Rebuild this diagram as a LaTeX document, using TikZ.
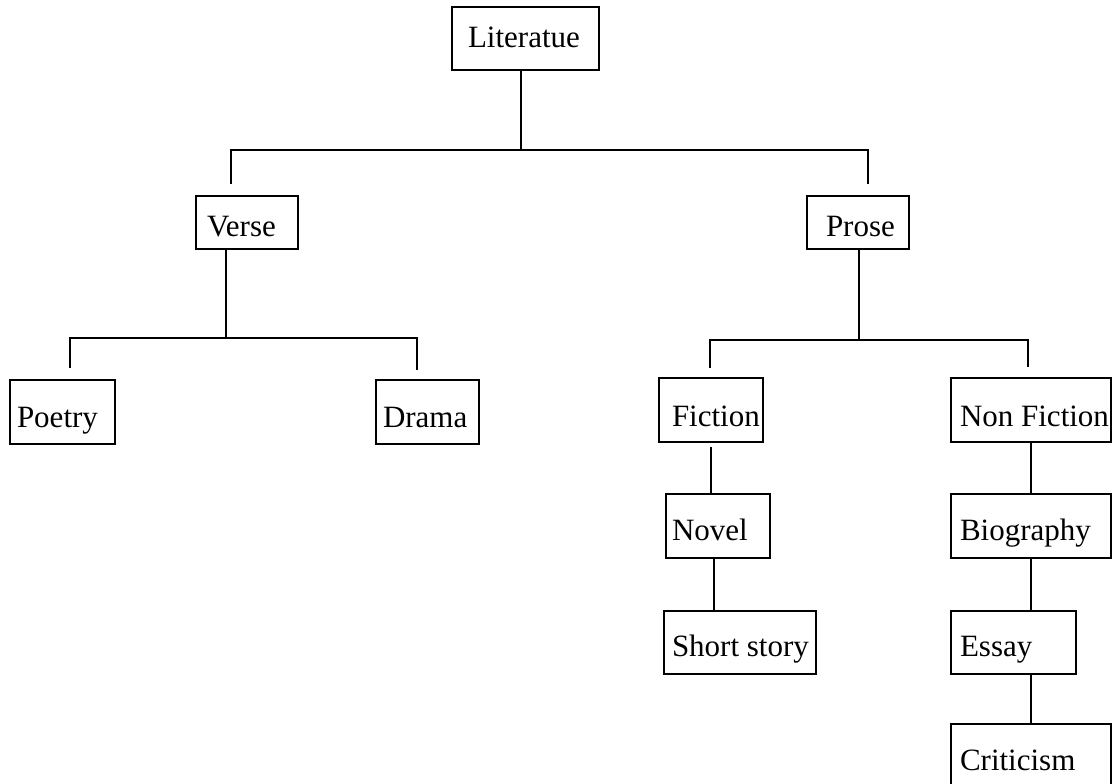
\documentclass[tikz,border=0pt]{standalone}
\usepackage{fontspec}
\setmainfont{Liberation Serif}

% left aligned label of given width
\newcommand{\boxtext}[2]{\makebox[#1][l]{#2}}

\begin{document}
\begin{tikzpicture}[x=1pt, y=-1pt, line width=1.9pt,
    box/.style={draw, inner ysep=0pt, text height=28pt, text depth=0pt,
      font=\fontsize{31}{37}\selectfont}]

    \useasboundingbox (0,0) rectangle (1119,784);

    % Top box
    \node[box, minimum height=63pt, inner xsep=16pt, text height=19pt] (lit) at (525.5,38.5) {\boxtext{115pt}{Literatue}};

    % Second level
    \node[box, minimum height=53pt, inner xsep=11pt, text height=27pt] (verse) at (247,222.5) {\boxtext{80pt}{Verse}};
    \node[box, minimum height=53pt, inner xsep=19pt, text height=27pt] (prose) at (858,222.5) {\boxtext{64pt}{Prose}};

    % Verse branch
    \node[box, minimum height=64pt, inner xsep=7pt, text height=30pt] (poetry) at (62.5,412) {\boxtext{91pt}{Poetry}};
    \node[box, minimum height=64pt, inner xsep=7pt, text height=30pt] (drama) at (427.5,412) {\boxtext{89pt}{Drama}};

    % Prose branch
    \node[box, minimum height=64pt, inner xsep=13pt, text height=32pt] (fiction) at (711,410) {\boxtext{78pt}{Fiction}};
    \node[box, minimum height=64pt, inner xsep=9pt, text height=32pt] (nonfic) at (1031,410) {\boxtext{142pt}{Non Fiction}};

    % Fiction column
    \node[box, minimum height=64pt, inner xsep=6pt] (novel) at (718,526) {\boxtext{92pt}{Novel}};
    \node[box, minimum height=63pt, inner xsep=8pt] (short) at (740,642.5) {\boxtext{136pt}{Short story}};

    % Non fiction column
    \node[box, minimum height=64pt, inner xsep=9pt] (bio) at (1031,526) {\boxtext{142pt}{Biography}};
    \node[box, minimum height=63pt, inner xsep=9pt] (essay) at (1013.5,642.5) {\boxtext{107pt}{Essay}};
    \node[box, minimum height=64pt, inner xsep=9pt] (crit) at (1031,756) {\boxtext{142pt}{Criticism}};

    % Literatue to Verse and Prose
    \coordinate (litbar) at (521,150);
    \coordinate (versetop) at (231,184);
    \coordinate (prosetop) at (868,184);
    \draw (lit.south -| litbar) -- (litbar);
    \draw (versetop) |- (litbar) -| (prosetop);

    % Verse to Poetry and Drama
    \coordinate (versebar) at (226,338);
    \coordinate (poetrytop) at (70,368);
    \coordinate (dramatop) at (417,370);
    \draw (verse.south -| versebar) -- (versebar);
    \draw (poetrytop) |- (versebar) -| (dramatop);

    % Prose to Fiction and Non Fiction
    \coordinate (prosebar) at (859,340);
    \coordinate (fictiontop) at (710,368);
    \coordinate (nonfictop) at (1028,367);
    \draw (prose.south -| prosebar) -- (prosebar);
    \draw (fictiontop) |- (prosebar) -| (nonfictop);

    % Fiction chain
    \draw ([yshift=-4pt]fiction.south) -- (fiction.south |- novel.north);
    \draw ([xshift=-4pt]novel.south) -- ([xshift=-4pt]novel.south |- short.north);

    % Non fiction chain
    \draw (nonfic.south) -- (bio.north);
    \draw (bio.south) -- (bio.south |- essay.north);
    \draw (essay.south -| bio.south) -- (crit.north);
  \end{tikzpicture}
\end{document}
